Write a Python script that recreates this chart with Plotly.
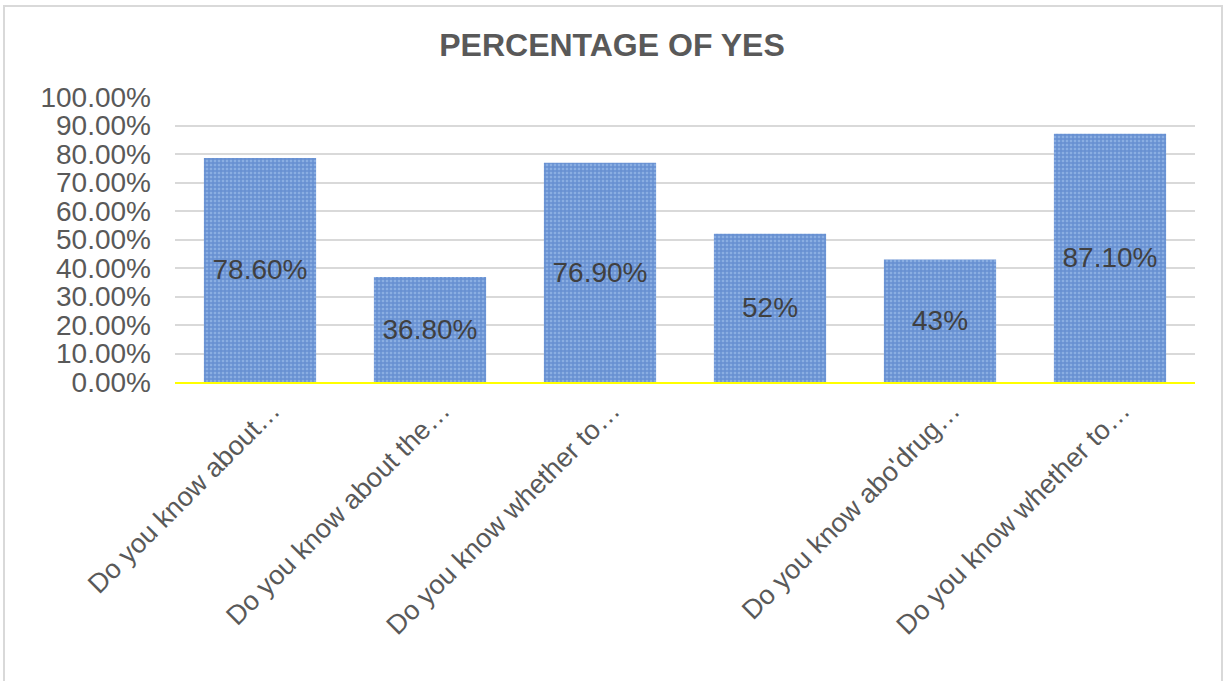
import plotly.graph_objects as go

categories = ["Do you know about…", "Do you know about the…", "Do you know whether to…",
              "", "Do you know abo'drug…", "Do you know whether to…"]
values = [0.786, 0.368, 0.769, 0.52, 0.43, 0.871]
labels = ["78.60%", "36.80%", "76.90%", "52%", "43%", "87.10%"]
positions = list(range(len(categories)))

W, H = 1225, 681
L, R, T, B = 175, 30, 97, 299
pw, ph = W - L - R, H - T - B

fig = go.Figure()
fig.add_trace(go.Bar(
    x=positions, y=values, text=labels,
    textposition="inside", insidetextanchor="middle", textangle=0,
    textfont=dict(family="Liberation Sans, Arial", size=28, color="#404040"),
    width=0.66,
    marker=dict(color="#8aaee2", line=dict(width=0),
                pattern=dict(shape="+", fgcolor="#4170bf", size=4, solidity=0.6, fillmode="overlay")),
    hoverinfo="skip",
))

fig.update_layout(
    width=W, height=H,
    margin=dict(l=L, r=R, t=T, b=B),
    paper_bgcolor="white", plot_bgcolor="white",
    showlegend=False,
    title=dict(text="<b>PERCENTAGE OF YES</b>", x=612 / W, xanchor="center",
               y=1 - 45 / H, yanchor="middle", xref="container", yref="container",
               font=dict(family="Liberation Sans, Arial", size=32, color="#595959")),
    font=dict(family="Liberation Sans, Arial", color="#595959"),
)
fig.update_yaxes(range=[0, 1], dtick=0.1, tickformat=".2%", showgrid=True,
                 gridcolor="#d9d9d9", gridwidth=2, zeroline=False, showline=False,
                 tickfont=dict(size=28, color="#595959"), ticklabelstandoff=23,
                 fixedrange=True)
fig.update_xaxes(range=[-0.5, 5.5], tickmode="array", tickvals=positions, ticktext=categories,
                 tickangle=-45, tickfont=dict(size=27, color="#595959"), ticklabelshift=12,
                 showline=True, linecolor="#ffff00", linewidth=2, showgrid=False,
                 zeroline=False, fixedrange=True)

# outer chart border
fig.add_shape(type="rect", xref="paper", yref="paper",
              x0=(4 - L) / pw, x1=(1222 - L) / pw,
              y0=-(690 - T - ph) / ph, y1=1 + (T - 6) / ph,
              line=dict(color="#d9d9d9", width=2), fillcolor="rgba(0,0,0,0)", layer="below")

fig.write_html("out.html")
